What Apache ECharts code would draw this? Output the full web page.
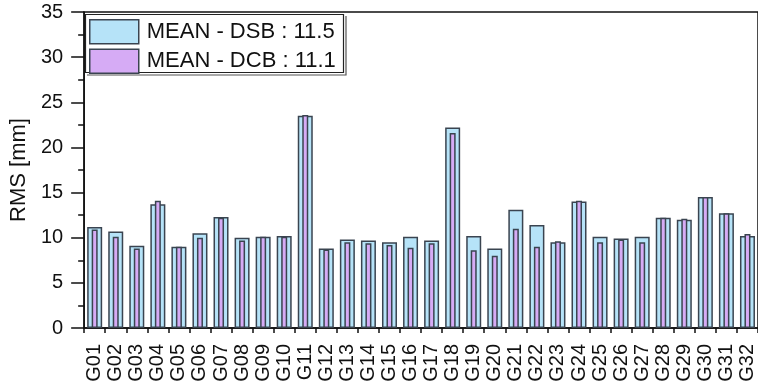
<!DOCTYPE html>
<html><head><meta charset="utf-8">
<script src="https://cdn.jsdelivr.net/npm/echarts@6/dist/echarts.min.js"></script>
<style>html,body{margin:0;padding:0;background:#fff}#c{width:758px;height:389px}</style>
</head><body><div id="c"></div>
<script>
const categories = ['G01','G02','G03','G04','G05','G06','G07','G08','G09','G10','G11','G12','G13','G14','G15','G16','G17','G18','G19','G20','G21','G22','G23','G24','G25','G26','G27','G28','G29','G30','G31','G32'];
const dsb = [11.2,10.7,9.1,13.7,9.0,10.5,12.3,10.0,10.1,10.2,23.5,8.8,9.8,9.7,9.5,10.1,9.7,22.2,10.2,8.8,13.1,11.4,9.5,14.0,10.1,9.9,10.1,12.2,12.0,14.5,12.7,10.2];
const dcb = [10.9,10.1,8.8,14.1,9.0,10.0,12.2,9.7,10.1,10.1,23.6,8.7,9.5,9.4,9.2,8.9,9.4,21.6,8.6,8.0,11.0,9.0,9.6,14.1,9.5,9.8,9.5,12.2,12.1,14.5,12.7,10.4];
const legendNames = ['MEAN - DSB : 11.5','MEAN - DCB : 11.1'];
const yTicks = [0,35,5];

const chart = echarts.init(document.getElementById('c'), null, {renderer:'canvas'});
const F = 'Arial, "Liberation Sans", sans-serif';
const edge = '#3a4450';
chart.setOption({
  animation:false,
  grid:{left:82,right:0,top:12,bottom:61,show:true,borderColor:'#111',borderWidth:1.5,backgroundColor:'transparent'},
  legend:{
    orient:'vertical',left:89,top:19,itemWidth:49,itemHeight:24,itemGap:4,padding:0,
    icon:'rect',
    textStyle:{fontFamily:F,fontSize:22,color:'#111',padding:[0,0,0,3]},
    data:legendNames,
    itemStyle:{borderColor:edge,borderWidth:1.5}
  },
  graphic:[
    {type:'rect',shape:{x:85.5,y:14.5,width:258,height:58},style:{fill:'none',stroke:'#222',lineWidth:1.2}},
    {type:'polyline',shape:{points:[[87,75],[346,75],[346,16]]},style:{fill:'none',stroke:'#555',lineWidth:1.2}}
  ],
  xAxis:[
    {type:'category',data:categories,
     axisLine:{lineStyle:{color:'#111',width:1.5}},
     axisTick:{alignWithLabel:true,interval:0,length:13,lineStyle:{color:'#111',width:1.5}},
     axisLabel:{rotate:90,interval:0,fontFamily:F,fontSize:20,color:'#111',margin:16},
     splitLine:{show:false}},
    {type:'category',data:categories,position:'bottom',
     axisLine:{show:false},
     axisTick:{show:true,interval:0,length:5,lineStyle:{color:'#111',width:1.5}},
     axisLabel:{show:false,interval:0},splitLine:{show:false}}
  ],
  yAxis:{type:'value',min:yTicks[0],max:yTicks[1],interval:yTicks[2],
    name:'RMS [mm]',nameLocation:'middle',nameGap:46,
    nameTextStyle:{fontFamily:F,fontSize:22,color:'#111'},
    axisLine:{show:true,lineStyle:{color:'#111',width:1.5}},
    axisTick:{show:true,length:13,lineStyle:{color:'#111',width:1.5}},
    minorTick:{show:true,splitNumber:2,length:6,lineStyle:{color:'#111',width:1.5}},
    axisLabel:{fontFamily:F,fontSize:20,color:'#111',margin:21},
    splitLine:{show:false}},
  series:[
    {name:legendNames[0],type:'bar',xAxisIndex:0,data:dsb,barWidth:15,
     itemStyle:{color:'#b6e3f8',borderColor:edge,borderWidth:1.5}},
    {name:legendNames[1],type:'bar',xAxisIndex:1,data:dcb,barWidth:6,
     itemStyle:{color:'#d6abf5',borderColor:edge,borderWidth:1.5}}
  ]
});
</script></body></html>
